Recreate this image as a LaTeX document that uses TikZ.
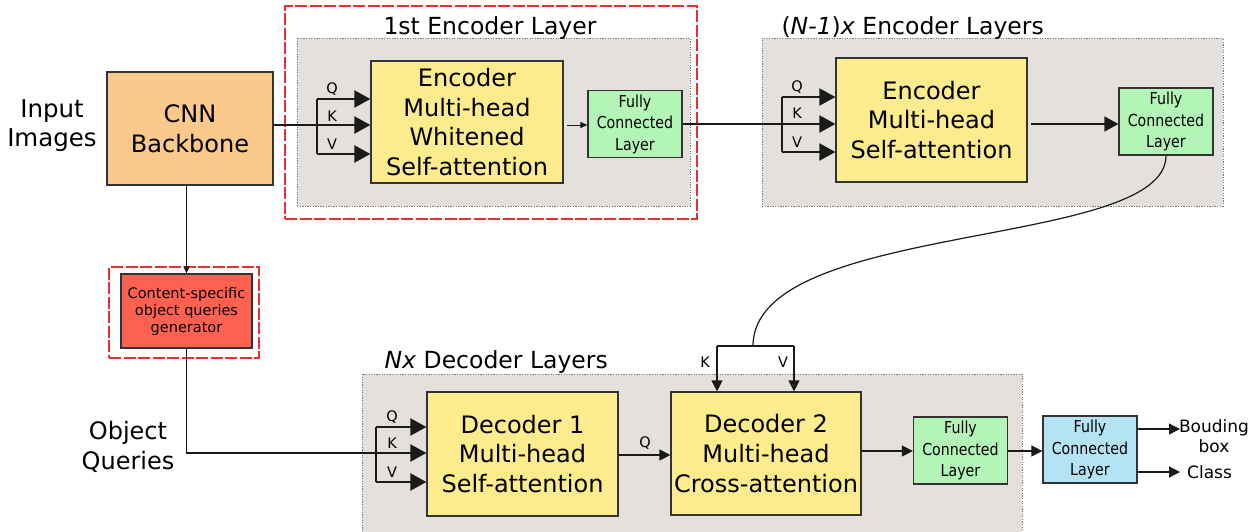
\documentclass[tikz,border=0pt]{standalone}
\usepackage{fontspec}
\setmainfont{DejaVu Sans}
\newfontfamily\narrowfont[FakeStretch=0.86]{DejaVu Sans}
\usetikzlibrary{arrows.meta,calc}

\definecolor{boxline}{HTML}{333333}
\definecolor{wire}{HTML}{1A1A1A}
\definecolor{cnnfill}{HTML}{FCC98C}
\definecolor{yelfill}{HTML}{FCEC8E}
\definecolor{fcfill}{HTML}{B3F5B7}
\definecolor{bluefill}{HTML}{B4E4F4}
\definecolor{genfill}{HTML}{FF6150}
\definecolor{framefill}{HTML}{E4E1DC}
\definecolor{framegray}{HTML}{7A7A7A}
\definecolor{redline}{HTML}{E8302C}

\begin{document}
\begin{tikzpicture}[x=1pt,y=-1pt,
  box/.style={draw=boxline, line width=1.2pt, inner sep=0pt, align=center},
  bigtext/.style={font=\fontsize{24}{29.7}\selectfont},
  titletext/.style={font=\fontsize{23.5}{28}\selectfont},
  fctext/.style={font=\narrowfont\fontsize{16.5}{21.5}\selectfont},
  attn/.style={box, fill=yelfill, bigtext},
  fcbox/.style={box, fill=fcfill, fctext, minimum width=94pt, minimum height=67pt},
  frame/.style={draw=framegray, fill=framefill, line width=0.8pt,
    dash pattern=on 1.3pt off 1.3pt, inner sep=0pt},
  redframe/.style={draw=redline, line width=1.8pt,
    dash pattern=on 12pt off 2.5pt, inner sep=0pt},
  lbl/.style={font=\fontsize{14.5}{14.5}\selectfont, inner sep=0pt},
  wirel/.style={draw=wire, line width=1.2pt},
  branch/.style={draw=wire, line width=2pt},
  bigtip/.style={-{Triangle[length=16pt,width=17pt]}},
  midtip/.style={-{Triangle[length=14pt,width=15pt]}},
  smalltip/.style={-{Triangle[length=11pt,width=11pt]}},
  tinytip/.style={-{Triangle[length=7pt,width=6pt]}},
]
\useasboundingbox (0,0) rectangle (1257,531);
\clip (0,0) rectangle (1257,531);

% ---------- input side ----------
\node[font=\fontsize{24.5}{29}\selectfont, align=center] (inimg) at (52,126) {Input\\Images};
\node[box, fill=cnnfill, bigtext, minimum width=166pt, minimum height=113pt]
  (cnn) at (190,128.5) {CNN\\Backbone};

% ---------- first encoder layer ----------
\node[redframe, minimum width=412pt, minimum height=213pt] (enc1red) at (491,112.5) {};
\node[frame, minimum width=393pt, minimum height=168pt] (enc1) at (493.5,122) {};
\node[titletext, anchor=base] (enc1t) at (490,34) {1st Encoder Layer};
\node[attn, minimum width=192pt, minimum height=122pt] (e1) at (467,122)
  {Encoder\\Multi-head\\Whitened\\Self-attention};
\node[fcbox] (fc1) at (635,124) {Fully\\Connected\\Layer};

\coordinate (q1) at (317,99);
\coordinate (k1) at (317,125);
\coordinate (v1) at (317,154);
\draw[wirel] (cnn.east |- k1) -- (k1);
\draw[branch] (q1) -- (v1);
\draw[branch, bigtip] (q1) -- (q1 -| e1.west);
\draw[branch, bigtip] (k1) -- (k1 -| e1.west);
\draw[branch, bigtip] (v1) -- (v1 -| e1.west);
\node[lbl] (lq1) at (332,89) {Q};
\node[lbl] (lk1) at (332,116) {K};
\node[lbl] (lv1) at (332,144) {V};
\draw[draw=wire, line width=0.9pt, tinytip, shorten <=3pt] (e1.east |- k1) -- (fc1.west |- k1);

% ---------- remaining encoder layers ----------
\node[frame, minimum width=461pt, minimum height=168pt] (enc2) at (992.5,122) {};
\node[titletext, anchor=base west] (enc2t) at (778,34) {(\textit{N-1})\textit{x} Encoder Layers};
\node[attn, minimum width=191pt, minimum height=124pt] (e2) at (931.5,120)
  {Encoder\\Multi-head\\Self-attention};
\node[fcbox] (fc2) at (1166,121.5) {Fully\\Connected\\Layer};

\coordinate (q2) at (782,97);
\coordinate (k2) at (782,124);
\coordinate (v2) at (782,152);
\draw[draw=wire, line width=2.8pt] (fc1.east |- k2) -- (k2);
\draw[branch] (q2) -- (v2);
\draw[branch, bigtip] (q2) -- (q2 -| e2.west);
\draw[branch, bigtip] (k2) -- (k2 -| e2.west);
\draw[branch, bigtip] (v2) -- (v2 -| e2.west);
\node[lbl] (lq2) at (797,87) {Q};
\node[lbl] (lk2) at (797,113) {K};
\node[lbl] (lv2) at (797,142) {V};
\draw[wirel, midtip, shorten <=3pt] (e2.east |- k2) -- (fc2.west |- k2);

% ---------- query generator ----------
\node[redframe, minimum width=150pt, minimum height=91pt] (genred) at (184,312.5) {};
\node[box, fill=genfill, font=\fontsize{14.5}{17}\selectfont,
  minimum width=131pt, minimum height=74pt] (gen) at (186.5,311)
  {Content-specific\\object queries\\generator};
\draw[wirel, tinytip] (cnn.south -| gen.north) -- (gen.north);
\node[bigtext, align=center] (objq) at (128,447) {Object\\Queries};

% ---------- decoder layers ----------
\node[frame, minimum width=660pt, minimum height=175pt] (dec) at (692,461.5) {};
\node[titletext, anchor=base west] (dect) at (381,368) {\textit{Nx} Decoder Layers};
\node[attn, minimum width=191pt, minimum height=124pt] (d1) at (522.5,454)
  {Decoder 1\\Multi-head\\Self-attention};
\node[attn, minimum width=190pt, minimum height=123pt] (d2) at (766,453.5)
  {Decoder 2\\Multi-head\\Cross-attention};
\node[fcbox] (fc3) at (960.5,450.5) {Fully\\Connected\\Layer};
\node[box, fill=bluefill, fctext, minimum width=94pt, minimum height=67pt]
  (fc4) at (1090,449.5) {Fully\\Connected\\Layer};

\coordinate (qd) at (376,427);
\coordinate (kd) at (376,453);
\coordinate (vd) at (376,482);
\draw[wirel] (gen.south) |- (kd);
\draw[branch] (qd) -- (vd);
\draw[branch, bigtip] (qd) -- (qd -| d1.west);
\draw[branch, bigtip] (kd) -- (kd -| d1.west);
\draw[branch, bigtip] (vd) -- (vd -| d1.west);
\node[lbl] (lqd) at (392,417) {Q};
\node[lbl] (lkd) at (392,443) {K};
\node[lbl] (lvd) at (392,472) {V};

\coordinate (qx) at (0,455);
\draw[wirel, smalltip] (d1.east |- qx) -- (d2.west |- qx);
\node[lbl] (lqx) at (645,443) {Q};
\coordinate (fx) at (0,451);
\draw[wirel, smalltip] (d2.east |- fx) -- (fc3.west |- fx);
\draw[wirel, smalltip] (fc3.east |- fx) -- (fc4.west |- fx);

% encoder memory feeding the cross-attention
\coordinate (jn) at (753,346);
\coordinate (jk) at (717,346);
\coordinate (jv) at (794,346);
\draw[wirel] (fc2.south) .. controls (1166,250) and (753,220) .. (jn);
\draw[wirel] (jk) -- (jv);
\draw[wirel, smalltip] (jk) -- (jk |- d2.north);
\draw[wirel, smalltip] (jv) -- (jv |- d2.north);
\node[lbl] (lkx) at (705,362) {K};
\node[lbl] (lvx) at (783,362) {V};

% ---------- outputs ----------
\node[font=\fontsize{17}{20}\selectfont, align=center, inner sep=0pt] (bb) at (1214,436) {Bouding\\box};
\node[font=\fontsize{17}{20}\selectfont, anchor=west, inner sep=0pt] (cls) at (1187,472) {Class};
\coordinate (o1) at (1180,429);
\coordinate (o2) at (1180,472);
\draw[wirel, smalltip] (fc4.east |- o1) -- (o1);
\draw[wirel, smalltip] (fc4.east |- o2) -- (o2);
\end{tikzpicture}
\end{document}
